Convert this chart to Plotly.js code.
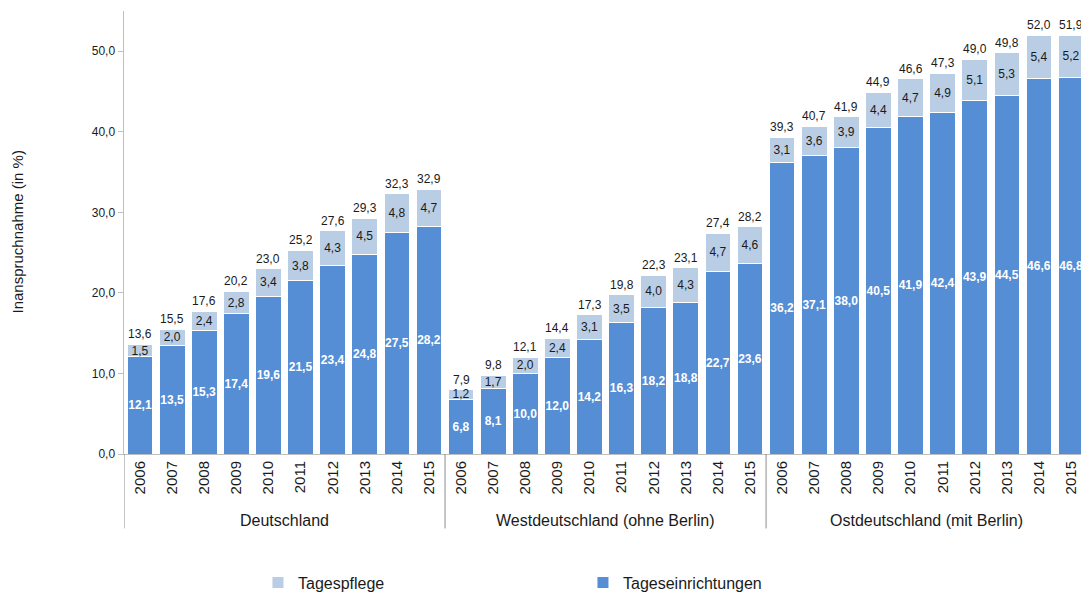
<!DOCTYPE html>
<html><head><meta charset="utf-8">
<script src="https://cdn.plot.ly/plotly-3.0.1.min.js"></script>
<style>html,body{margin:0;padding:0;background:#fff;overflow:hidden}#c{width:1081px;height:596px}</style>
</head><body><div id="c"></div>
<script>
const groups = ["Deutschland", "Westdeutschland (ohne Berlin)", "Ostdeutschland (mit Berlin)"];
const years = ["2006","2007","2008","2009","2010","2011","2012","2013","2014","2015"];
const einrichtungen = [
  12.1, 13.5, 15.3, 17.4, 19.6, 21.5, 23.4, 24.8, 27.5, 28.2,
  6.8, 8.1, 10.0, 12.0, 14.2, 16.3, 18.2, 18.8, 22.7, 23.6,
  36.2, 37.1, 38.0, 40.5, 41.9, 42.4, 43.9, 44.5, 46.6, 46.8
];
const pflege = [
  1.5, 2.0, 2.4, 2.8, 3.4, 3.8, 4.3, 4.5, 4.8, 4.7,
  1.2, 1.7, 2.0, 2.4, 3.1, 3.5, 4.0, 4.3, 4.7, 4.6,
  3.1, 3.6, 3.9, 4.4, 4.7, 4.9, 5.1, 5.3, 5.4, 5.2
];
const totals = [
  13.6, 15.5, 17.6, 20.2, 23.0, 25.2, 27.6, 29.3, 32.3, 32.9,
  7.9, 9.8, 12.1, 14.4, 17.3, 19.8, 22.3, 23.1, 27.4, 28.2,
  39.3, 40.7, 41.9, 44.9, 46.6, 47.3, 49.0, 49.8, 52.0, 51.9
];

const fmt = v => v.toFixed(1).replace('.', ',');
const xs = [], tickText = [];
groups.forEach((g, gi) => years.forEach((y, yi) => { xs.push(gi * years.length + yi); tickText.push(y); }));
const stackTop = einrichtungen.map((v, i) => v + pflege[i]);

const FONT = "Liberation Sans";
const traces = [
  {type:'bar', name:'Tageseinrichtungen', x: xs, y: einrichtungen, legendrank: 2,
   marker:{color:'#558ED5', line:{color:'#ffffff', width:1}},
   text: einrichtungen.map(fmt), textposition:'inside', insidetextanchor:'middle', textangle:0,
   constraintext:'none', textfont:{family:FONT, size:12, color:'#ffffff', weight:'bold'}, hoverinfo:'skip'},
  {type:'bar', name:'Tagespflege', x: xs, y: pflege, legendrank: 1,
   marker:{color:'#B9CDE5', line:{color:'#ffffff', width:1}},
   text: pflege.map(fmt), textposition:'inside', insidetextanchor:'middle', textangle:0,
   constraintext:'none', textfont:{family:FONT, size:12, color:'#1a1a1a'}, hoverinfo:'skip'}
];

const shapes = [];
[ -0.5, 9.5, 19.5 ].forEach(xv => shapes.push({type:'line', xref:'x', yref:'paper', x0:xv, x1:xv, y0:0, y1:-0.168,
  line:{color:'#8c8c8c', width:1}}));

const annotations = groups.map((g, gi) => ({xref:'x', yref:'paper', x: gi*10 + 4.5, y: -0.151, text: g,
  showarrow:false, xanchor:'center', yanchor:'middle', font:{family:FONT, size:16, color:'#1a1a1a'}}));
annotations.push({xref:'paper', yref:'paper', x:-0.1118, y:0.5, text:'Inanspruchnahme (in %)', textangle:-90,
  showarrow:false, xanchor:'center', yanchor:'middle', font:{family:FONT, size:15, color:'#1a1a1a'}});
xs.forEach((xv, i) => annotations.push({xref:'x', yref:'y', x: xv, y: stackTop[i], text: fmt(totals[i]),
  showarrow:false, xanchor:'center', yanchor:'bottom', yshift:1, font:{family:FONT, size:12, color:'#1a1a1a'}}));

const layout = {
  width:1081, height:596, margin:{l:124, r:0, t:11, b:142, autoexpand:false},
  paper_bgcolor:'#fff', plot_bgcolor:'#fff',
  barmode:'stack', bargap:0.2, separators:',.',
  font:{family:FONT, color:'#1a1a1a'},
  xaxis:{range:[-0.5, 29.31], tickmode:'array', tickvals: xs, ticktext: tickText, tickangle:-90, automargin:false,
    tickfont:{family:FONT, size:15, color:'#1a1a1a'}, ticks:'', showgrid:false, zeroline:false,
    showline:true, linecolor:'#bfbfbf', linewidth:1, fixedrange:true},
  yaxis:{range:[0,55], tickvals:[0,10,20,30,40,50], tickformat:'.1f', ticks:'outside', ticklen:5, tickcolor:'#bfbfbf',
    automargin:false, tickfont:{family:FONT, size:12, color:'#1a1a1a'}, showgrid:false, zeroline:false,
    showline:true, linecolor:'#bfbfbf', linewidth:1.5, fixedrange:true},
  showlegend:true,
  legend:{orientation:'h', x:0.14, y:-0.252, xanchor:'left', yanchor:'top', entrywidth:280, entrywidthmode:'pixels',
    font:{family:FONT, size:16, color:'#1a1a1a'}, traceorder:'normal'},
  shapes, annotations
};
Plotly.newPlot('c', traces, layout, {displayModeBar:false, staticPlot:true});
</script></body></html>
